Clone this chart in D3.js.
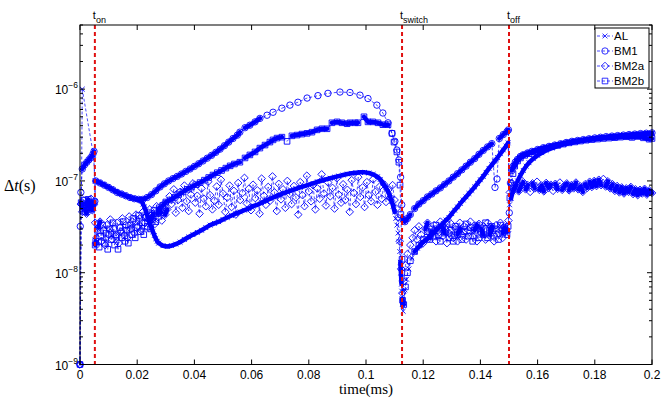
<!DOCTYPE html>
<html>
<head>
<meta charset="utf-8">
<script src="https://cdn.jsdelivr.net/npm/d3@7"></script>
<style>
body{margin:0;background:#fff;}
svg{display:block;}
.serif{font-family:"Liberation Serif","Times New Roman",serif;}
</style>
</head>
<body>
<div id="chart"></div>
<script>
// time (ms) / time step (s) pairs
var alData = [[0,1e-9],[0.0008,1e-6],[0.0047,1.9e-7],[0.0053,1.0e-7],[0.0065,9.7e-8],[0.008,9.2e-8],[0.0095,8.7e-8],[0.011,8.2e-8],[0.0125,7.7e-8],[0.014,7.3e-8],[0.0155,7.0e-8],[0.017,6.7e-8],[0.0185,6.5e-8],[0.020,6.3e-8],[0.0215,6.0e-8],[0.022,5.6e-8],[0.0225,5.2e-8],[0.023,4.7e-8],[0.0235,4.2e-8],[0.024,3.8e-8],[0.0245,3.4e-8],[0.025,3.1e-8],[0.0255,2.8e-8],[0.026,2.55e-8],[0.0265,2.35e-8],[0.027,2.2e-8],[0.0275,2.1e-8],[0.029,1.97e-8],[0.0305,1.93e-8],[0.032,1.97e-8],[0.0335,2.05e-8],[0.035,2.15e-8],[0.0365,2.3e-8],[0.038,2.45e-8],[0.0395,2.6e-8],[0.041,2.75e-8],[0.0425,2.9e-8],[0.044,3.1e-8],[0.0455,3.3e-8],[0.047,3.45e-8],[0.0485,3.6e-8],[0.050,3.8e-8],[0.0515,4.0e-8],[0.053,4.2e-8],[0.0545,4.4e-8],[0.056,4.6e-8],[0.0575,4.8e-8],[0.059,5.0e-8],[0.0605,5.3e-8],[0.062,5.5e-8],[0.0635,5.8e-8],[0.065,6.1e-8],[0.0665,6.4e-8],[0.068,6.7e-8],[0.0695,7.0e-8],[0.071,7.3e-8],[0.0725,7.6e-8],[0.074,7.9e-8],[0.0755,8.2e-8],[0.077,8.5e-8],[0.0785,8.8e-8],[0.080,9.1e-8],[0.0815,9.4e-8],[0.083,9.8e-8],[0.0845,1.01e-7],[0.086,1.04e-7],[0.0875,1.07e-7],[0.089,1.1e-7],[0.0905,1.13e-7],[0.092,1.16e-7],[0.0935,1.19e-7],[0.095,1.21e-7],[0.0965,1.23e-7],[0.098,1.24e-7],[0.0995,1.24e-7],[0.101,1.22e-7],[0.1025,1.18e-7],[0.104,1.11e-7],[0.105,1.04e-7],[0.106,9.4e-8],[0.107,8.5e-8],[0.1077,7.7e-8],[0.1083,6.9e-8],[0.109,6.0e-8],[0.1095,5.3e-8],[0.110,4.6e-8],[0.1104,3.9e-8],[0.1108,3.3e-8],[0.1112,2.7e-8],[0.1115,2.2e-8],[0.1118,1.7e-8],[0.112,1.3e-8],[0.1121,1.15e-8],[0.1122,1.0e-8],[0.1123,8.8e-9],[0.1124,7.5e-9],[0.1125,6.3e-9],[0.1126,5.2e-9],[0.1127,4.5e-9],[0.113,3.8e-9],[0.1136,6.5e-9],[0.1142,8.5e-9],[0.115,1.1e-8],[0.116,1.45e-8],[0.117,1.7e-8],[0.118,1.85e-8],[0.119,2.0e-8],[0.120,2.15e-8],[0.121,2.28e-8],[0.122,2.45e-8],[0.123,2.6e-8],[0.124,2.8e-8],[0.125,3.0e-8],[0.126,3.2e-8],[0.127,3.45e-8],[0.128,3.75e-8],[0.129,4.0e-8],[0.130,4.4e-8],[0.131,4.8e-8],[0.132,5.2e-8],[0.133,5.7e-8],[0.134,6.2e-8],[0.135,6.7e-8],[0.136,7.3e-8],[0.137,7.9e-8],[0.138,8.6e-8],[0.139,9.4e-8],[0.140,1.03e-7],[0.141,1.12e-7],[0.142,1.24e-7],[0.143,1.37e-7],[0.144,1.5e-7],[0.145,1.64e-7],[0.146,1.8e-7],[0.147,1.98e-7],[0.148,2.18e-7],[0.149,2.4e-7],[0.1497,2.6e-7],[0.1502,5.5e-8],[0.1507,6.5e-8],[0.1513,7.6e-8],[0.152,8.6e-8],[0.153,1.0e-7],[0.154,1.15e-7],[0.155,1.3e-7],[0.156,1.45e-7],[0.157,1.58e-7],[0.1585,1.75e-7],[0.160,1.9e-7],[0.1615,2.03e-7],[0.163,2.15e-7],[0.165,2.28e-7],[0.167,2.4e-7],[0.169,2.5e-7],[0.171,2.58e-7],[0.173,2.65e-7],[0.175,2.72e-7],[0.177,2.78e-7],[0.179,2.84e-7],[0.181,2.9e-7],[0.183,2.95e-7],[0.185,3.0e-7],[0.187,3.04e-7],[0.189,3.08e-7],[0.191,3.12e-7],[0.193,3.16e-7],[0.195,3.2e-7],[0.197,3.23e-7],[0.199,3.26e-7],[0.2,3.28e-7]];

var bm1Data = [[0,1e-9],[0.0001,3.2e-8],[0.0003,7.5e-8],[0.0008,1.35e-7],[0.0016,1.5e-7],[0.0024,1.6e-7],[0.0031,1.7e-7],[0.0038,1.8e-7],[0.0045,1.95e-7],[0.0049,2.1e-7],[0.0052,6e-8],[0.0055,1.0e-7],[0.007,9.5e-8],[0.0085,9.0e-8],[0.01,8.5e-8],[0.0115,8.0e-8],[0.013,7.5e-8],[0.0145,7.2e-8],[0.016,6.9e-8],[0.0175,6.6e-8],[0.019,6.4e-8],[0.0205,6.3e-8],[0.022,6.3e-8],[0.0235,6.6e-8],[0.025,7.1e-8],[0.0265,7.8e-8],[0.028,8.6e-8],[0.0295,9.3e-8],[0.031,1.0e-7],[0.0325,1.06e-7],[0.034,1.12e-7],[0.0355,1.19e-7],[0.037,1.27e-7],[0.0385,1.35e-7],[0.04,1.44e-7],[0.0415,1.54e-7],[0.043,1.65e-7],[0.0445,1.77e-7],[0.046,1.9e-7],[0.0475,2.05e-7],[0.049,2.22e-7],[0.0505,2.42e-7],[0.052,2.65e-7],[0.0535,2.9e-7],[0.055,3.15e-7],[0.0559,3.4e-7],[0.0577,3.8e-7],[0.0594,4.05e-7],[0.0612,4.4e-7],[0.0629,4.8e-7],[0.0654,5.2e-7],[0.0675,5.6e-7],[0.0706,6.2e-7],[0.0734,6.7e-7],[0.0762,7.2e-7],[0.0794,8.0e-7],[0.0832,8.5e-7],[0.0867,9.0e-7],[0.0909,9.3e-7],[0.0944,9.2e-7],[0.0979,8.6e-7],[0.1007,7.9e-7],[0.1038,6.7e-7],[0.1059,5.5e-7],[0.1077,4.3e-7],[0.1091,3.3e-7],[0.1101,2.7e-7],[0.1108,2.17e-7],[0.1115,1.69e-7],[0.1121,1.1e-7],[0.1125,5.5e-8],[0.1129,3.8e-8],[0.1136,3.6e-8],[0.1145,3.9e-8],[0.1155,4.3e-8],[0.117,5.0e-8],[0.1185,5.6e-8],[0.12,6.1e-8],[0.1215,6.7e-8],[0.123,7.2e-8],[0.1245,7.8e-8],[0.126,8.4e-8],[0.1275,9.2e-8],[0.129,1.0e-7],[0.1305,1.1e-7],[0.132,1.2e-7],[0.1335,1.32e-7],[0.135,1.45e-7],[0.1365,1.6e-7],[0.138,1.75e-7],[0.1395,1.95e-7],[0.141,2.15e-7],[0.1425,2.35e-7],[0.144,2.55e-7],[0.1451,8.5e-8],[0.1458,1.05e-7],[0.1466,2.9e-7],[0.148,3.2e-7],[0.1493,3.45e-7],[0.1498,3.6e-7],[0.1501,4.5e-8],[0.1505,9.5e-8],[0.151,1.3e-7],[0.1515,1.45e-7],[0.1522,1.6e-7],[0.153,1.72e-7],[0.154,1.85e-7],[0.155,1.93e-7],[0.1565,2.02e-7],[0.158,2.1e-7],[0.16,2.2e-7],[0.162,2.3e-7],[0.164,2.38e-7],[0.166,2.46e-7],[0.168,2.54e-7],[0.17,2.62e-7],[0.172,2.7e-7],[0.174,2.76e-7],[0.176,2.82e-7],[0.178,2.88e-7],[0.18,2.94e-7],[0.182,2.99e-7],[0.184,3.04e-7],[0.186,3.08e-7],[0.188,3.12e-7],[0.19,3.16e-7],[0.192,3.2e-7],[0.194,3.24e-7],[0.196,3.28e-7],[0.198,3.31e-7],[0.2,3.34e-7]];

var bm2aData = [[0,1e-9],[0.0003,5.6e-8],[0.0008,4.6e-8],[0.0013,6.1e-8],[0.0018,5.0e-8],[0.0023,4.4e-8],[0.0028,5.8e-8],[0.0033,5.2e-8],[0.0038,6.4e-8],[0.0043,4.8e-8],[0.0048,5.5e-8],[0.0053,3.5e-8],
[0.0058,2.4e-8],[0.0064,3.1e-8],[0.0070,3.6e-8],[0.0076,2.2e-8],[0.0082,2.9e-8],[0.0088,2.0e-8],[0.0094,3.3e-8],[0.0100,2.6e-8],[0.0106,3.8e-8],[0.0112,2.3e-8],[0.0118,3.0e-8],[0.0124,2.5e-8],[0.0130,3.5e-8],[0.0136,2.1e-8],[0.0142,2.8e-8],[0.0148,3.9e-8],[0.0154,2.6e-8],[0.0160,3.3e-8],[0.0166,2.4e-8],[0.0172,4.1e-8],[0.0178,3.0e-8],[0.0184,3.6e-8],[0.0190,2.7e-8],[0.0196,4.3e-8],[0.0202,3.2e-8],[0.0208,3.9e-8],[0.0214,2.9e-8],[0.0220,4.6e-8],[0.0226,3.5e-8],[0.0232,4.1e-8],[0.0238,3.1e-8],[0.0244,4.9e-8],[0.0250,3.8e-8],[0.0256,4.4e-8],[0.0262,3.4e-8],[0.0268,5.3e-8],[0.0274,4.0e-8],[0.0280,4.8e-8],[0.0286,3.7e-8],[0.0292,5.6e-8],[0.0298,4.3e-8],
[0.0305,4.9e-8],[0.0313,6.8e-8],[0.0320,5.6e-8],[0.0328,8.1e-8],[0.0335,4.5e-8],[0.0343,6.2e-8],[0.0350,7.6e-8],[0.0358,5.1e-8],[0.0365,8.9e-8],[0.0373,6.0e-8],[0.0380,4.7e-8],[0.0388,7.1e-8],[0.0395,9.4e-8],[0.0403,5.8e-8],[0.0410,6.9e-8],[0.0418,4.4e-8],[0.0425,8.3e-8],[0.0433,6.4e-8],[0.0440,5.3e-8],[0.0448,9.8e-8],[0.0455,7.0e-8],[0.0463,4.9e-8],[0.0470,6.1e-8],[0.0478,8.7e-8],[0.0485,5.5e-8],[0.0493,1.03e-7],[0.0500,7.3e-8],[0.0508,4.6e-8],[0.0515,6.6e-8],[0.0523,8.9e-8],[0.0530,5.2e-8],[0.0538,7.8e-8],[0.0545,4.3e-8],[0.0553,9.5e-8],[0.0560,6.2e-8],[0.0568,7.4e-8],[0.0575,1.08e-7],[0.0583,5.7e-8],[0.0590,8.2e-8],[0.0598,4.8e-8],[0.0605,9.1e-8],[0.0613,6.5e-8],[0.0620,7.9e-8],[0.0628,4.4e-8],[0.0635,1.06e-7],[0.0643,6.9e-8],[0.0650,5.5e-8],[0.0658,8.6e-8],[0.0665,6.1e-8],[0.0673,1.12e-7],[0.0680,7.5e-8],[0.0688,4.7e-8],[0.0695,9.3e-8],[0.0703,6.3e-8],[0.0710,8.1e-8],[0.0718,5.1e-8],[0.0725,1.0e-7],[0.0733,7.2e-8],[0.0740,5.6e-8],[0.0748,8.8e-8],[0.0755,6.6e-8],[0.0763,4.3e-8],[0.0770,9.7e-8],[0.0778,7.0e-8],[0.0785,5.3e-8],[0.0793,1.14e-7],[0.0800,7.7e-8],[0.0808,6.0e-8],[0.0815,9.0e-8],[0.0823,4.9e-8],[0.0830,8.3e-8],[0.0838,6.4e-8],[0.0845,1.18e-7],[0.0853,7.3e-8],[0.0860,5.4e-8],[0.0868,9.6e-8],[0.0875,6.8e-8],[0.0883,8.4e-8],[0.0890,5.0e-8],[0.0898,1.07e-7],[0.0905,7.1e-8],[0.0913,5.8e-8],[0.0920,9.2e-8],[0.0928,6.2e-8],[0.0935,8.0e-8],[0.0943,4.6e-8],[0.0950,1.02e-7],[0.0958,7.4e-8],[0.0965,5.6e-8],[0.0973,1.1e-7],[0.0980,6.7e-8],[0.0988,8.5e-8],[0.0995,5.2e-8],[0.1003,9.7e-8],[0.1010,7.0e-8],[0.1018,6.0e-8],[0.1025,1.04e-7],[0.1033,7.6e-8],[0.1040,5.5e-8],[0.1048,8.7e-8],[0.1055,6.4e-8],[0.1063,9.2e-8],[0.1070,5.9e-8],[0.1078,8.0e-8],[0.1085,6.6e-8],[0.1093,9.0e-8],[0.1100,6.2e-8],[0.1106,5.0e-8],[0.1112,4.0e-8],[0.1118,2.2e-8],[0.1123,1.1e-8],[0.1127,6e-9],
[0.1132,8e-9],[0.1138,1.2e-8],[0.1145,1.6e-8],[0.1155,2.0e-8],[0.1163,2.4e-8],[0.1170,2.9e-8],[0.1178,2.3e-8],[0.1185,3.2e-8],[0.1193,2.6e-8],[0.1200,2.1e-8],[0.1208,3.0e-8],[0.1215,3.5e-8],[0.1223,2.4e-8],[0.1230,2.8e-8],[0.1238,3.3e-8],[0.1245,2.2e-8],[0.1253,2.9e-8],[0.1260,3.6e-8],[0.1268,2.5e-8],[0.1275,3.1e-8],[0.1283,2.1e-8],[0.1290,2.7e-8],[0.1298,3.4e-8],[0.1305,2.4e-8],[0.1313,3.0e-8],[0.1320,2.2e-8],[0.1328,3.5e-8],[0.1335,2.6e-8],[0.1343,3.2e-8],[0.1350,2.3e-8],[0.1358,2.9e-8],[0.1365,3.6e-8],[0.1373,2.5e-8],[0.1380,3.1e-8],[0.1388,2.2e-8],[0.1395,3.4e-8],[0.1403,2.7e-8],[0.1410,3.2e-8],[0.1418,2.3e-8],[0.1425,3.5e-8],[0.1433,2.6e-8],[0.1440,3.0e-8],[0.1448,2.2e-8],[0.1455,3.3e-8],[0.1463,2.7e-8],[0.1470,3.5e-8],[0.1478,2.4e-8],[0.1485,3.1e-8],[0.1493,2.8e-8],[0.1498,3.7e-8],
[0.1503,7.5e-8],[0.1510,9.5e-8],[0.1518,8.0e-8],[0.1526,9.2e-8],[0.1534,7.7e-8],[0.1542,8.8e-8],[0.1550,9.7e-8],[0.1558,8.1e-8],[0.1566,9.0e-8],[0.1574,7.6e-8],[0.1582,9.4e-8],[0.1590,8.3e-8],[0.1598,9.8e-8],[0.1606,8.0e-8],[0.1614,8.9e-8],[0.1622,7.7e-8],[0.1630,9.5e-8],[0.1638,8.4e-8],[0.1646,9.1e-8],[0.1654,7.8e-8],[0.1662,9.3e-8],[0.1670,8.2e-8],[0.1678,9.6e-8],[0.1686,8.0e-8],[0.1694,8.8e-8],[0.1702,9.4e-8],[0.1710,7.9e-8],[0.1718,9.0e-8],[0.1726,8.3e-8],[0.1734,9.6e-8],[0.1742,8.1e-8],[0.1750,8.7e-8],[0.1758,7.6e-8],[0.1766,9.2e-8],[0.1774,8.4e-8],[0.1782,9.8e-8],[0.1790,8.6e-8],[0.1798,1.0e-7],[0.1806,8.8e-8],[0.1814,1.03e-7],[0.1822,9.0e-8],[0.1830,1.05e-7],[0.1838,8.7e-8],[0.1846,9.9e-8],[0.1854,8.3e-8],[0.1862,9.2e-8],[0.1870,7.8e-8],[0.1878,8.8e-8],[0.1886,7.5e-8],[0.1894,8.5e-8],[0.1902,7.3e-8],[0.1910,8.3e-8],[0.1918,7.6e-8],[0.1926,8.6e-8],[0.1934,7.2e-8],[0.1942,8.1e-8],[0.1950,7.0e-8],[0.1958,8.0e-8],[0.1966,7.3e-8],[0.1974,8.2e-8],[0.1982,7.1e-8],[0.1990,7.9e-8],[0.2,7.4e-8]];

var bm2bData = [[0,1e-9],[0.0004,5.8e-8],[0.0009,5.0e-8],[0.0014,6.2e-8],[0.0019,4.6e-8],[0.0024,5.5e-8],[0.0029,6.3e-8],[0.0034,4.9e-8],[0.0039,5.7e-8],[0.0044,5.1e-8],[0.0049,5.9e-8],[0.0053,2.0e-8],
[0.0055,2.2e-8],[0.0061,2.9e-8],[0.0067,1.9e-8],[0.0073,2.5e-8],[0.0079,3.3e-8],[0.0085,2.1e-8],[0.0091,2.7e-8],[0.0097,1.8e-8],[0.0103,3.0e-8],[0.0109,2.3e-8],[0.0115,3.5e-8],[0.0121,2.0e-8],[0.0127,2.6e-8],[0.0133,1.8e-8],[0.0139,3.1e-8],[0.0145,2.4e-8],[0.0151,3.6e-8],[0.0157,2.2e-8],[0.0163,2.9e-8],[0.0169,2.1e-8],[0.0175,3.3e-8],[0.0181,2.6e-8],[0.0187,3.9e-8],[0.0193,2.4e-8],[0.0199,3.1e-8],[0.0205,4.2e-8],[0.0211,2.8e-8],[0.0217,3.5e-8],[0.0223,2.6e-8],[0.0229,4.0e-8],[0.0235,3.2e-8],[0.0241,4.5e-8],[0.0247,3.0e-8],[0.0253,3.8e-8],[0.0259,4.8e-8],[0.0265,3.6e-8],[0.0271,4.4e-8],[0.0277,5.1e-8],[0.0283,4.5e-8],[0.0289,5.4e-8],
[0.030,5.9e-8],[0.0315,6.2e-8],[0.033,6.6e-8],[0.0345,7.1e-8],[0.036,7.6e-8],[0.0375,8.1e-8],[0.039,8.6e-8],[0.0405,9.1e-8],[0.042,9.6e-8],[0.0435,1.02e-7],[0.045,1.09e-7],[0.0465,1.16e-7],[0.048,1.23e-7],[0.0495,1.3e-7],[0.051,1.38e-7],[0.0525,1.46e-7],[0.054,1.53e-7],[0.0559,1.6e-7],[0.0577,1.78e-7],[0.0594,1.92e-7],[0.0612,2.07e-7],[0.0629,2.28e-7],[0.0647,2.46e-7],[0.0664,2.65e-7],[0.0675,2.8e-7],[0.0689,2.93e-7],[0.0706,3.0e-7],[0.0724,2.7e-7],[0.0741,3.1e-7],[0.0759,3.16e-7],[0.0776,3.24e-7],[0.0794,3.3e-7],[0.0811,3.4e-7],[0.0829,3.6e-7],[0.0846,3.7e-7],[0.0864,3.7e-7],[0.0881,4.3e-7],[0.0899,4.4e-7],[0.0916,4.3e-7],[0.0934,4.2e-7],[0.0944,4.3e-7],[0.0962,4.3e-7],[0.0972,4.3e-7],[0.0993,5.0e-7],[0.1007,4.4e-7],[0.1024,4.4e-7],[0.1042,4.3e-7],[0.1059,4.1e-7],[0.1077,4.1e-7],[0.1091,3.3e-7],[0.1098,2.65e-7],[0.1108,2.07e-7],[0.1115,1.6e-7],[0.1119,9e-8],[0.1122,4.3e-8],[0.1126,1.4e-8],[0.1128,5e-9],
[0.1132,4.5e-9],[0.1138,7e-9],[0.1145,1.0e-8],[0.1155,1.35e-8],[0.117,1.7e-8],[0.1185,2.0e-8],[0.12,2.3e-8],[0.1215,2.8e-8],[0.1223,2.3e-8],[0.1230,3.0e-8],[0.1238,2.5e-8],[0.1245,3.3e-8],[0.1253,2.6e-8],[0.1260,2.2e-8],[0.1268,3.1e-8],[0.1275,2.7e-8],[0.1283,3.4e-8],[0.1290,2.4e-8],[0.1298,2.9e-8],[0.1305,2.2e-8],[0.1313,3.2e-8],[0.1320,2.6e-8],[0.1328,3.0e-8],[0.1335,2.3e-8],[0.1343,2.8e-8],[0.1350,3.4e-8],[0.1358,2.5e-8],[0.1365,3.1e-8],[0.1373,2.2e-8],[0.1380,2.9e-8],[0.1388,3.3e-8],[0.1395,2.4e-8],[0.1403,3.0e-8],[0.1410,2.6e-8],[0.1418,3.5e-8],[0.1425,2.4e-8],[0.1433,2.9e-8],[0.1440,3.2e-8],[0.1448,2.5e-8],[0.1455,3.0e-8],[0.1463,2.3e-8],[0.1470,3.3e-8],[0.1478,2.7e-8],[0.1485,3.1e-8],[0.1493,2.6e-8],[0.1497,3.2e-8],
[0.1503,6.5e-8],[0.1508,9e-8],[0.1514,1.2e-7],[0.152,1.45e-7],[0.153,1.65e-7],[0.154,1.78e-7],[0.1555,1.9e-7],[0.157,1.98e-7],[0.159,2.08e-7],[0.161,2.18e-7],[0.163,2.28e-7],[0.165,2.36e-7],[0.167,2.44e-7],[0.169,2.52e-7],[0.171,2.6e-7],[0.173,2.66e-7],[0.175,2.72e-7],[0.177,2.78e-7],[0.179,2.82e-7],[0.181,2.86e-7],[0.183,2.9e-7],[0.185,2.93e-7],[0.187,2.96e-7],[0.189,3.0e-7],[0.191,3.03e-7],[0.193,2.98e-7],[0.195,3.05e-7],[0.197,2.95e-7],[0.199,2.85e-7],[0.2,2.9e-7]];

var seriesNames = ["AL", "BM1", "BM2a", "BM2b"];
var seriesMarkers = ["x", "circle", "diamond", "square"];

var eventTimes = [0.0052, 0.1126, 0.15];
var eventLabels = ["on", "switch", "off"];

var xTicks = [0, 0.02, 0.04, 0.06, 0.08, 0.1, 0.12, 0.14, 0.16, 0.18, 0.2];
var xTickLabels = ["0", "0.02", "0.04", "0.06", "0.08", "0.1", "0.12", "0.14", "0.16", "0.18", "0.2"];
var yTicks = [1e-9, 1e-8, 1e-7, 1e-6];
var yTickExps = ["\u22129", "\u22128", "\u22127", "\u22126"];

function init(){
    var w = 666, h = 402;
    var left = 80, right = 652, top = 25, bottom = 364.5;
    var blue = "#0000ff";

    var svg = d3.select("#chart").append("svg")
                .attr("width", w)
                .attr("height", h)
                .attr("font-family", "Liberation Sans, Arial, sans-serif");

    var x = d3.scaleLinear().domain([0, 0.2]).range([left, right]);
    var y = d3.scaleLog().domain([1e-9, 5e-6]).range([bottom, top]);

    function markerPath(type){
        if(type=="x") return "M-2.4,-2.4L2.4,2.4M-2.4,2.4L2.4,-2.4";
        if(type=="circle") return "M3.2,0A3.2,3.2 0 1,1 -3.2,0A3.2,3.2 0 1,1 3.2,0Z";
        if(type=="diamond") return "M0,-3.8L3.8,0L0,3.8L-3.8,0Z";
        return "M-2.8,-2.8H2.8V2.8H-2.8Z";
    }

    var allData = [alData, bm1Data, bm2aData, bm2bData];
    var line = d3.line().x(function(d){ return x(d[0]); }).y(function(d){ return y(d[1]); });

    allData.forEach(function(data, k){
        var g = svg.append("g").attr("class", "series");
        g.append("path")
            .attr("d", line(data))
            .attr("fill", "none")
            .attr("stroke", blue)
            .attr("stroke-width", 0.7)
            .attr("stroke-dasharray", "3,2");

        // where markers sit almost on top of each other they merge into a solid band
        var band = "";
        for(var i=1;i<data.length;i++){
            var x0 = x(data[i-1][0]), y0 = y(data[i-1][1]);
            var x1 = x(data[i][0]), y1 = y(data[i][1]);
            if(Math.hypot(x1-x0, y1-y0) < 6.5){
                band += "M"+x0+","+y0+"L"+x1+","+y1;
            }
        }
        g.append("path")
            .attr("d", band)
            .attr("fill", "none")
            .attr("stroke", blue)
            .attr("stroke-width", 4.5)
            .attr("stroke-linecap", "round");

        g.selectAll("path.mk")
            .data(data)
            .enter()
            .append("path")
            .attr("class", "mk")
            .attr("d", markerPath(seriesMarkers[k]))
            .attr("transform", function(d){ return "translate("+x(d[0])+","+y(d[1])+")"; })
            .attr("fill", "none")
            .attr("stroke", blue)
            .attr("stroke-width", 0.9);
    });

    // event lines
    svg.selectAll("line.ev")
        .data(eventTimes)
        .enter()
        .append("line")
        .attr("x1", function(d){ return x(d); })
        .attr("x2", function(d){ return x(d); })
        .attr("y1", top)
        .attr("y2", bottom)
        .attr("stroke", "#e01010")
        .attr("stroke-width", 2)
        .attr("stroke-dasharray", "4,3");

    var evText = svg.selectAll("text.ev")
        .data(eventTimes)
        .enter()
        .append("text")
        .attr("x", function(d){ return x(d) - 2; })
        .attr("y", 19)
        .attr("font-size", 11);
    evText.append("tspan").text("t");
    evText.append("tspan")
        .attr("dy", 4)
        .attr("font-size", 9)
        .text(function(d,i){ return eventLabels[i]; });

    // axes box
    svg.append("rect")
        .attr("x", left).attr("y", top)
        .attr("width", right-left).attr("height", bottom-top)
        .attr("fill", "none")
        .attr("stroke", "#000")
        .attr("stroke-width", 1);

    xTicks.forEach(function(t, i){
        svg.append("line").attr("x1", x(t)).attr("x2", x(t)).attr("y1", bottom).attr("y2", bottom-5).attr("stroke", "#000");
        svg.append("line").attr("x1", x(t)).attr("x2", x(t)).attr("y1", top).attr("y2", top+5).attr("stroke", "#000");
        svg.append("text")
            .attr("x", x(t)).attr("y", 379)
            .attr("text-anchor", "middle")
            .attr("font-size", 12)
            .text(xTickLabels[i]);
    });

    for(var e=-9;e<=-6;e++){
        for(var m=1;m<=9;m++){
            var v = m*Math.pow(10, e);
            if(v > 5.01e-6) continue;
            var len = m==1 ? 5 : 3;
            svg.append("line").attr("x1", left).attr("x2", left+len).attr("y1", y(v)).attr("y2", y(v)).attr("stroke", "#000");
            svg.append("line").attr("x1", right).attr("x2", right-len).attr("y1", y(v)).attr("y2", y(v)).attr("stroke", "#000");
        }
    }

    yTicks.forEach(function(v, i){
        var t = svg.append("text")
            .attr("x", 78).attr("y", y(v)+5)
            .attr("text-anchor", "end")
            .attr("font-size", 12);
        t.append("tspan").text("10");
        t.append("tspan").attr("dy", -6).attr("font-size", 8.5).text(yTickExps[i]);
    });

    // axis titles
    var yl = svg.append("text")
        .attr("class", "serif")
        .attr("x", 4).attr("y", 191)
        .attr("font-size", 16);
    yl.append("tspan").text("\u0394");
    yl.append("tspan").attr("font-style", "italic").text("t");
    yl.append("tspan").text("(s)");

    svg.append("text")
        .attr("class", "serif")
        .attr("x", 366).attr("y", 394)
        .attr("text-anchor", "middle")
        .attr("font-size", 15)
        .text("time(ms)");

    // legend
    var lg = svg.append("g");
    lg.append("rect")
        .attr("x", 595).attr("y", 28)
        .attr("width", 54).attr("height", 60)
        .attr("fill", "#fff")
        .attr("stroke", "#000")
        .attr("stroke-width", 1);
    seriesNames.forEach(function(name, i){
        var ly = 36 + i*15;
        lg.append("line")
            .attr("x1", 597).attr("x2", 613)
            .attr("y1", ly).attr("y2", ly)
            .attr("stroke", blue)
            .attr("stroke-width", 0.7)
            .attr("stroke-dasharray", "3,2");
        lg.append("path")
            .attr("d", markerPath(seriesMarkers[i]))
            .attr("transform", "translate(605,"+ly+")")
            .attr("fill", "none")
            .attr("stroke", blue)
            .attr("stroke-width", 0.8);
        lg.append("text")
            .attr("x", 614).attr("y", ly+4)
            .attr("font-size", 11.5)
            .text(name);
    });
}

window.onload = init;
</script>
</body>
</html>
